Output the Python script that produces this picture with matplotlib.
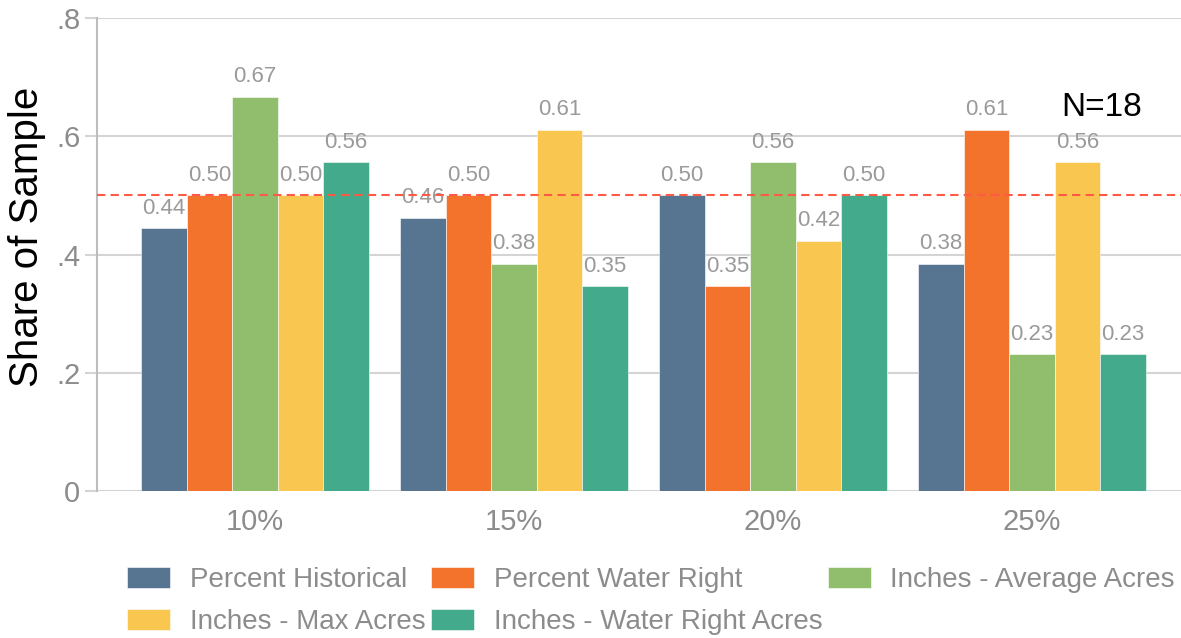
import numpy as np
import matplotlib
matplotlib.use("Agg")
import matplotlib.pyplot as plt

plt.rcParams['font.family'] = ['Liberation Sans', 'DejaVu Sans']

categories = ['10%', '15%', '20%', '25%']
series_names = ['Percent Historical', 'Percent Water Right', 'Inches - Average Acres',
                'Inches - Max Acres', 'Inches - Water Right Acres']
colors = ['#577590', '#F3722C', '#90BE6D', '#F9C74F', '#43AA8B']

percent_historical = [0.444, 0.462, 0.500, 0.384]
percent_water_right = [0.500, 0.500, 0.346, 0.611]
inches_avg_acres = [0.667, 0.384, 0.556, 0.231]
inches_max_acres = [0.500, 0.611, 0.423, 0.556]
inches_wr_acres = [0.556, 0.346, 0.500, 0.231]

series = [percent_historical, percent_water_right, inches_avg_acres,
          inches_max_acres, inches_wr_acres]

fig = plt.figure(figsize=(11.81, 6.38), dpi=100)
ax = fig.add_axes([97/1181, 1 - 491/638, 1 - 97/1181, (491 - 18)/638])

x = np.arange(len(categories))
w = 0.176
handles = []
for i, (vals, c) in enumerate(zip(series, colors)):
    pos = x + (i - 2) * w
    b = ax.bar(pos, vals, w, color=c, edgecolor='white', linewidth=0.4, zorder=2)
    handles.append(b)
    for px, v in zip(pos, vals):
        ax.annotate('%.2f' % v, (px, v), xytext=(0, 7), textcoords='offset points',
                    ha='center', va='bottom', fontsize=16, color='#9a9a9a', zorder=3)

ax.axhline(0.5, color='#ff5a45', linestyle=(0, (4, 2.5)), linewidth=1.5, zorder=4)

ax.set_xlim(-0.61, 3.575)
ax.set_ylim(0, 0.8)
ax.set_yticks([0, 0.2, 0.4, 0.6, 0.8])
ax.set_yticklabels(['0', '.2', '.4', '.6', '.8'])
ax.set_xticks(x)
ax.set_xticklabels(categories)
ax.grid(axis='y', color='#d4d4d4', linewidth=1.5, zorder=0)
ax.set_axisbelow(True)
for s in ['top', 'right', 'bottom']:
    ax.spines[s].set_visible(False)
ax.spines['left'].set_color('#bdbdbd')
ax.spines['left'].set_linewidth(1.5)
ax.tick_params(axis='y', length=9, width=1.5, color='#d4d4d4', labelsize=21,
               labelcolor='#8c8c8c', pad=3)
ax.tick_params(axis='x', length=0, labelsize=21, labelcolor='#8c8c8c', pad=12)
ax.set_ylabel('Share of Sample', fontsize=29, color='black')
ax.yaxis.set_label_coords(-0.047, 0.537)

ax.text(3.27, 0.648, 'N=18', fontsize=24, color='black', ha='center', va='center')

order = [0, 3, 1, 4, 2]
fig.legend([handles[i] for i in order], [series_names[i] for i in order],
           ncol=3, loc='center', bbox_to_anchor=(651/1181, 1 - 601/638),
           frameon=False, fontsize=20, handlelength=1.55, handleheight=0.8,
           handletextpad=0.7, columnspacing=0.2, labelspacing=0.55,
           labelcolor='#8c8c8c')

fig.savefig('out.png', dpi=100)
